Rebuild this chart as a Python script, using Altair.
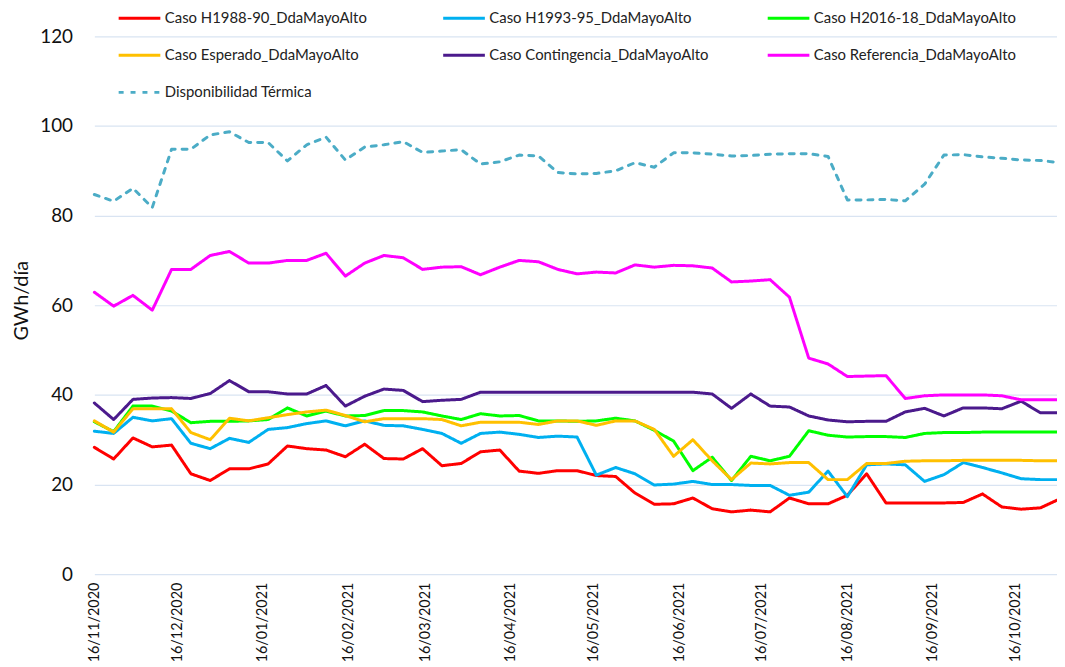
import altair as alt
import pandas as pd

# weekly dates (categories)
fechas = pd.date_range("2020-11-16", periods=51, freq="7D").strftime("%Y-%m-%d").tolist()

series = [
    "Caso H1988-90_DdaMayoAlto",
    "Caso H1993-95_DdaMayoAlto",
    "Caso H2016-18_DdaMayoAlto",
    "Caso Esperado_DdaMayoAlto",
    "Caso Contingencia_DdaMayoAlto",
    "Caso Referencia_DdaMayoAlto",
    "Disponibilidad Térmica",
]

h1988 = [28.3, 25.7, 30.4, 28.4, 28.8, 22.4, 20.9, 23.5, 23.5, 24.6, 28.6, 28.0, 27.7, 26.2, 29.0, 25.8, 25.7,
         28.0, 24.2, 24.7, 27.3, 27.7, 23.0, 22.5, 23.1, 23.1, 22.0, 21.8, 18.1, 15.6, 15.7, 17.0, 14.6,
         13.9, 14.3, 13.9, 17.0, 15.7, 15.7, 17.6, 22.4, 15.9, 15.9, 15.9, 15.9, 16.0, 17.9, 15.0, 14.5, 14.8, 16.8]
h1993 = [31.9, 31.4, 35.0, 34.2, 34.7, 29.2, 28.0, 30.3, 29.4, 32.3, 32.7, 33.6, 34.2, 33.1, 34.2, 33.2, 33.1,
         32.3, 31.4, 29.2, 31.4, 31.7, 31.2, 30.5, 30.8, 30.6, 22.1, 23.8, 22.4, 19.9, 20.1, 20.7, 20.0,
         20.0, 19.8, 19.8, 17.6, 18.3, 23.0, 17.3, 24.4, 24.6, 24.4, 20.7, 22.2, 24.9, 23.8, 22.6, 21.3, 21.1, 21.1]
h2016 = [34.0, 31.8, 37.5, 37.5, 36.4, 33.8, 34.1, 34.1, 34.2, 34.5, 37.1, 35.3, 36.4, 35.3, 35.4, 36.5, 36.5,
         36.2, 35.3, 34.5, 35.8, 35.3, 35.4, 34.2, 34.2, 34.1, 34.2, 34.8, 34.2, 32.1, 29.7, 23.1, 26.1,
         20.9, 26.3, 25.3, 26.3, 32.0, 31.0, 30.6, 30.7, 30.7, 30.5, 31.4, 31.6, 31.6, 31.7, 31.7, 31.7, 31.7, 31.7]
esperado = [34.2, 31.7, 36.9, 36.9, 36.9, 31.6, 30.0, 34.8, 34.2, 34.9, 35.6, 36.2, 36.6, 35.4, 34.0, 34.7, 34.7,
            34.7, 34.5, 33.1, 33.9, 33.9, 33.9, 33.4, 34.2, 34.2, 33.2, 34.2, 34.2, 32.3, 26.3, 30.0, 25.3,
            21.1, 24.8, 24.6, 24.9, 24.9, 21.1, 21.1, 24.7, 24.7, 25.2, 25.3, 25.3, 25.4, 25.4, 25.4, 25.4, 25.3, 25.3]
contingencia = [38.2, 34.5, 39.0, 39.3, 39.4, 39.2, 40.3, 43.2, 40.7, 40.7, 40.2, 40.2, 42.1, 37.5, 39.7, 41.3, 41.0,
                38.5, 38.8, 39.0, 40.6, 40.6, 40.6, 40.6, 40.6, 40.6, 40.6, 40.6, 40.6, 40.6, 40.6, 40.6, 40.2,
                37.0, 40.2, 37.5, 37.3, 35.3, 34.4, 34.0, 34.1, 34.1, 36.2, 37.0, 35.3, 37.1, 37.1, 36.9, 38.6, 36.0, 36.0]
referencia = [62.9, 59.8, 62.2, 58.9, 68.0, 68.0, 71.1, 72.0, 69.4, 69.4, 70.0, 70.0, 71.6, 66.5, 69.4, 71.1, 70.6,
              68.0, 68.5, 68.6, 66.8, 68.5, 70.0, 69.7, 68.0, 67.0, 67.4, 67.2, 69.0, 68.5, 68.9, 68.8, 68.3,
              65.2, 65.4, 65.7, 61.8, 48.2, 46.9, 44.1, 44.2, 44.3, 39.2, 39.8, 40.0, 40.0, 40.0, 39.8, 38.9, 38.9, 38.9]
termica = [84.7, 83.2, 86.1, 81.8, 94.8, 94.8, 98.0, 98.7, 96.3, 96.3, 92.2, 95.8, 97.5, 92.4, 95.3, 95.8, 96.5,
           94.1, 94.4, 94.7, 91.5, 92.0, 93.5, 93.3, 89.6, 89.3, 89.4, 90.0, 91.8, 90.8, 94.0, 94.0, 93.7,
           93.3, 93.4, 93.7, 93.8, 93.8, 93.2, 83.5, 83.5, 83.6, 83.3, 87.0, 93.5, 93.6, 93.1, 92.8, 92.4, 92.3, 91.8]

valores = [h1988, h1993, h2016, esperado, contingencia, referencia, termica]

colores = ["#FF0000", "#00B0F0", "#00FF00", "#FFC000", "#4B1A8C", "#FF00FF", "#4BACC6"]
anchos = [3, 3, 3, 4.5, 4, 4, 3.5]
trazos = [[1, 0]] * 6 + [[5, 7]]

tick_fechas = ["2020-11-16", "2020-12-16", "2021-01-16", "2021-02-16", "2021-03-16", "2021-04-16",
               "2021-05-16", "2021-06-16", "2021-07-16", "2021-08-16", "2021-09-16", "2021-10-16"]

rows = []
for s, vals in zip(series, valores):
    for f, v in zip(fechas, vals):
        rows.append({"fecha": f, "serie": s, "valor": v})
df = pd.DataFrame(rows)


def dt(s):
    y, m, d = (int(p) for p in s.split("-"))
    return alt.DateTime(year=y, month=m, date=d, utc=True)


FONT = "Lato"

legend = alt.Legend(
    orient="none", legendX=23, legendY=-41, columns=3, direction="horizontal",
    symbolType="stroke", symbolSize=1764, labelFontSize=15, labelFont=FONT,
    labelColor="#222222", gridAlign="all", columnPadding=53, rowPadding=6.5,
    labelOffset=3, title=None, labelLimit=400,
)

chart = alt.Chart(df).mark_line(strokeJoin="round", strokeCap="round").encode(
    x=alt.X(
        "fecha:T",
        scale=alt.Scale(type="utc", domain=[dt("2020-11-16"), dt("2021-10-31")], nice=False),
        axis=alt.Axis(
            values=[dt(t) for t in tick_fechas],
            labelExpr="utcFormat(datum.value, '%d/%m/%Y')",
            labelAngle=270, grid=False, ticks=False, domain=False,
            labelFontSize=14.5, labelFont=FONT, labelColor="#111111", labelPadding=8,
            title=None, labelOverlap=False,
        ),
    ),
    y=alt.Y(
        "valor:Q",
        scale=alt.Scale(domain=[0, 120], nice=False),
        axis=alt.Axis(
            values=[0, 20, 40, 60, 80, 100, 120], grid=True, gridColor="#D9E4F2", gridWidth=1.2,
            domain=False, ticks=False, labelFontSize=19, labelFont=FONT, labelColor="#111111",
            labelPadding=22, title="GWh/día", titleFontSize=20, titleFont=FONT,
            titleFontWeight="normal", titleColor="#111111",
            titleX=-73, titleY=266, titleAngle=270, titleAlign="center", titleBaseline="middle",
        ),
    ),
    color=alt.Color("serie:N", scale=alt.Scale(domain=series, range=colores), legend=legend),
    strokeWidth=alt.StrokeWidth("serie:N", scale=alt.Scale(domain=series, range=anchos), legend=legend),
    strokeDash=alt.StrokeDash("serie:N", scale=alt.Scale(domain=series, range=trazos), legend=legend),
).properties(
    width=970, height=542,
    autosize=alt.AutoSizeParams(type="none"),
    padding={"left": 87, "top": 26, "right": 0, "bottom": 91},
).configure_view(stroke=None)

chart.save("out.html", embed_options={"renderer": "svg", "actions": False})
